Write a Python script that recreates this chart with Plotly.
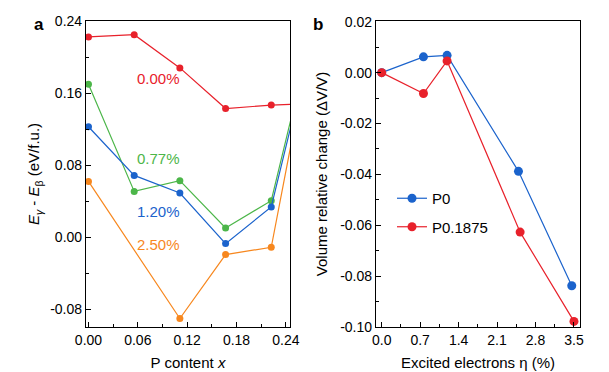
import plotly.graph_objects as go

# Panel a data
x_a = [0.0, 0.0556, 0.1111, 0.1667, 0.2222, 0.25]
y_000 = [0.2228, 0.2253, 0.1883, 0.1431, 0.1469, 0.148]
y_077 = [0.1702, 0.0509, 0.0628, 0.0102, 0.0406, 0.146]
y_120 = [0.1228, 0.0687, 0.0491, -0.0072, 0.0336, 0.138]
x_a_orange = [0.0, 0.1111, 0.1667, 0.2222, 0.25]
y_250 = [0.062, -0.0906, -0.0194, -0.0113, 0.121]
labels_a = ["0.00%", "0.77%", "1.20%", "2.50%"]
label_y = [0.176, 0.0872, 0.0287, -0.0083]

# Panel b data
x_p0 = [0.0, 0.76, 1.19, 2.49, 3.46]
y_p0 = [0.0, 0.0062, 0.0068, -0.0388, -0.0838]
x_p1875 = [0.0, 0.76, 1.19, 2.52, 3.50]
y_p1875 = [0.0, -0.0082, 0.0046, -0.0627, -0.0978]

RED = "#e8212b"
GREEN = "#4cb649"
BLUE = "#1b63cc"
ORANGE = "#f7871e"
FONT = "Liberation Sans, Arial, sans-serif"

W, H = 609, 372
OFF = 8  # page body margin offset


def px(x):
    return (x - OFF) / W


def py(y):
    return 1 - (y - OFF) / H


fig = go.Figure()


def add_a(x, y, c):
    fig.add_trace(go.Scatter(x=x, y=y, mode="lines+markers", xaxis="x", yaxis="y",
                             line=dict(color=c, width=1.2),
                             marker=dict(color=c, size=7), showlegend=False))


add_a(x_a, y_000, RED)
add_a(x_a, y_077, GREEN)
add_a(x_a, y_120, BLUE)
add_a(x_a_orange, y_250, ORANGE)

fig.add_trace(go.Scatter(x=x_p0, y=y_p0, mode="lines+markers", xaxis="x2", yaxis="y2",
                         name="P0", legendgroup="g1",
                         line=dict(color=BLUE, width=1.2), marker=dict(color=BLUE, size=9)))
fig.add_trace(go.Scatter(x=x_p1875, y=y_p1875, mode="lines+markers", xaxis="x2", yaxis="y2",
                         name="P0.1875", legendgroup="g2",
                         line=dict(color=RED, width=1.2), marker=dict(color=RED, size=9)))

for lab, ly, c in zip(labels_a, label_y, [RED, GREEN, BLUE, ORANGE]):
    fig.add_annotation(x=0.0847, y=ly, xref="x", yref="y", text=lab, showarrow=False,
                       font=dict(color=c, size=15, family=FONT))

fig.add_annotation(x=px(32), y=py(13), xref="paper", yref="paper", text="<b>a</b>",
                   showarrow=False, font=dict(size=17, color="black", family=FONT))
fig.add_annotation(x=px(318), y=py(13), xref="paper", yref="paper", text="<b>b</b>",
                   showarrow=False, font=dict(size=17, color="black", family=FONT))

axis_common = dict(showline=True, linecolor="black", linewidth=1.2, mirror=True,
                   ticks="inside", ticklen=5, tickwidth=1, tickcolor="black",
                   showgrid=False, zeroline=False, automargin=False,
                   tickfont=dict(size=14, color="black", family=FONT),
                   title_font=dict(size=15, color="black", family=FONT))

ydom = [py(327), py(21)]

fig.update_layout(
    width=W, height=H,
    margin=dict(l=0, r=0, t=0, b=0),
    paper_bgcolor="white", plot_bgcolor="white",
    font=dict(family=FONT, color="black"),
    xaxis=dict(domain=[px(86), px(290)], range=[-0.003, 0.245], tickvals=[0, 0.06, 0.12, 0.18, 0.24],
               ticktext=["0.00", "0.06", "0.12", "0.18", "0.24"],
               minor=dict(dtick=0.03, tick0=0, ticks="inside", ticklen=3, tickcolor="black"),
               title=dict(text="P content <i>x</i>", standoff=10), anchor="y", **axis_common),
    yaxis=dict(domain=ydom, range=[-0.1, 0.2405], tickvals=[-0.08, 0, 0.08, 0.16, 0.24],
               ticktext=["-0.08", "0.00", "0.08", "0.16", "0.24"],
               minor=dict(dtick=0.04, tick0=0, ticks="inside", ticklen=3, tickcolor="black"),
               title=dict(text="<i>E</i><sub><i>γ</i></sub> - <i>E</i><sub>β</sub> (eV/f.u.)", standoff=6),
               anchor="x", **axis_common),
    xaxis2=dict(domain=[px(376), px(580)], range=[-0.104, 3.61], tickvals=[0, 0.7, 1.4, 2.1, 2.8, 3.5],
                ticktext=["0.0", "0.7", "1.4", "2.1", "2.8", "3.5"],
                minor=dict(dtick=0.35, tick0=0, ticks="inside", ticklen=3, tickcolor="black"),
                title=dict(text="Excited electrons η (%)", standoff=10), anchor="y2", **axis_common),
    yaxis2=dict(domain=ydom, range=[-0.1, 0.0203], tickvals=[-0.1, -0.08, -0.06, -0.04, -0.02, 0, 0.02],
                ticktext=["-0.10", "-0.08", "-0.06", "-0.04", "-0.02", "0.00", "0.02"],
                minor=dict(dtick=0.01, tick0=0, ticks="inside", ticklen=3, tickcolor="black"),
                title=dict(text="Volume relative change (ΔV/V)", standoff=8), anchor="x2", **axis_common),
    legend=dict(x=px(392), y=py(182), xanchor="left", yanchor="top",
                bgcolor="rgba(0,0,0,0)", font=dict(size=15, color="black", family=FONT),
                tracegroupgap=6, itemwidth=30),
)

fig.write_html("out.html")
